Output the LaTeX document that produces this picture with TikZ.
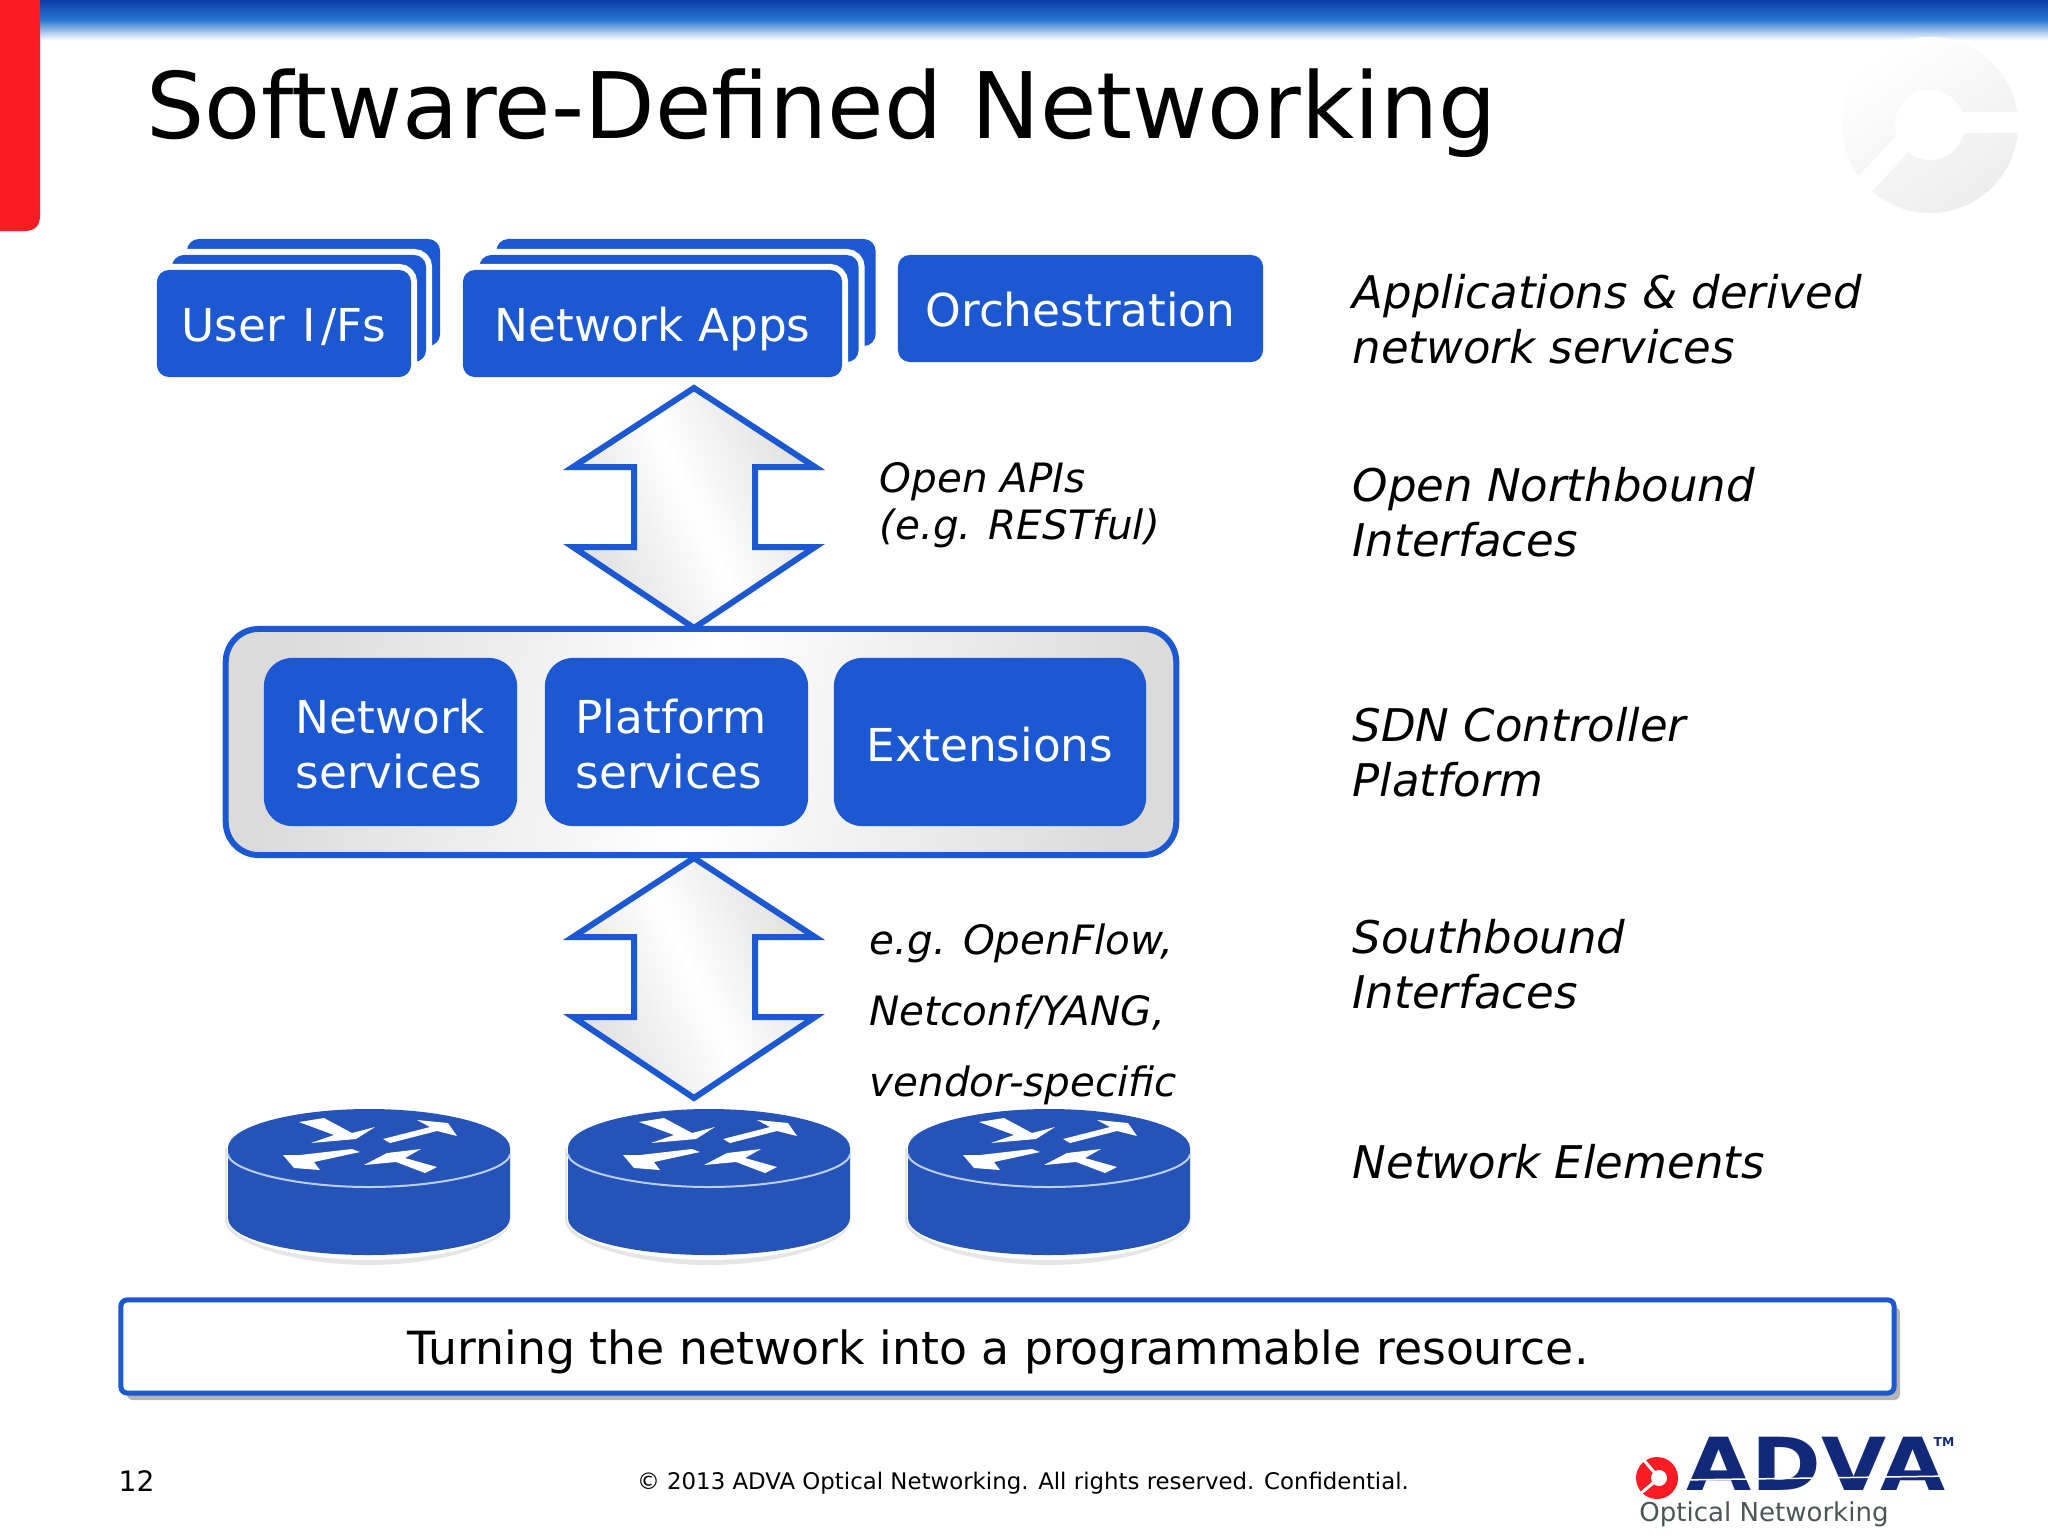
\documentclass[tikz,border=0pt]{standalone}
\usepackage{fontspec}
\setmainfont{DejaVu Sans}
\usetikzlibrary{%
  shadows,
  positioning
}
\definecolor{sdnblue}{HTML}{1B58D2}
\definecolor{routerblue}{HTML}{2653B8}
\definecolor{advanavy}{HTML}{12297A}
\definecolor{advared}{HTML}{FA1C24}
\definecolor{advagray}{HTML}{4A5555}
\definecolor{bartop}{HTML}{0A3CA8}
\definecolor{barmid}{HTML}{2A78D0}
\tikzset{
  bluebox/.style={fill=sdnblue, rounded corners=0.12cm, inner sep=0pt, text=white, align=left, font=\fontsize{12.9}{15.6}\selectfont},
  innerbox/.style={bluebox, rounded corners=0.28cm, minimum height=1.68cm},
  stackbox/.style={bluebox, minimum height=1.07cm, text height=10.4pt, text depth=0pt, preaction={draw=white, line width=0.12cm}},
  sidelabel/.style={anchor=west, align=left, inner sep=0pt, font=\fontsize{12.8}{15.6}\selectfont\itshape},
  midlabel/.style={anchor=west, align=left, inner sep=0pt, font=\fontsize{11.5}{13.4}\selectfont\itshape},
  updown/.style={draw=sdnblue, line width=0.06cm, miter limit=10, shading=axis, left color=gray!25, right color=gray!25, middle color=white, shading angle=115},
  router/.pic={
    \fill[gray!20] (-144,72) -- (-144,0) -- (142,0) -- (142,72) .. controls (142,96) and (70,117) .. (0,117) .. controls (-70,117) and (-144,96) .. (-144,72) -- cycle;
    \fill[white] (-142,70) -- (-142,0) -- (142,0) -- (142,70) .. controls (142,94) and (70,112) .. (0,112) .. controls (-70,112) and (-142,94) .. (-142,70) -- cycle;
    \fill[routerblue] (-141,0) .. controls (-141,-22) and (-75,-39) .. (0,-39) .. controls (75,-39) and (141,-22) .. (141,0) -- (141,70) .. controls (141,92) and (75,107) .. (0,107) .. controls (-75,107) and (-141,92) .. (-141,70) -- cycle;
    \draw[white!70!sdnblue, line width=0.02cm] (-141,6) .. controls (-141,22) and (-75,39) .. (0,39) .. controls (75,39) and (141,22) .. (141,6);
    \fill[white] (-70,-26) -- (-45,-30) -- (-17,-15) -- (6,-21) -- (-13,-9) -- (-58,-5) -- (-35,-13) -- cycle;
    \fill[white] (14,-9) -- (61,-21) -- (48,-28) -- (79,-25) -- (88,-12) -- (68,-17) -- (21,-5) -- cycle;
    \fill[white] (-86,7) -- (-69,7) -- (-17,1) -- (-9,4) -- (-55,14) -- (-49,22) -- (-75,20) -- cycle;
    \fill[white] (-5,17) -- (18,5) -- (52,1) -- (36,10) -- (68,19) -- (56,25) -- (27,14) -- cycle;
  }
}
\begin{document}
\begin{tikzpicture}[x=0.01cm, y=-0.01cm]
    \useasboundingbox (0,0) rectangle (2048,1536);

    \shade[top color=bartop, bottom color=white, middle color=barmid] (0,0) rectangle (2048,40);
    \fill[advared] (0,0) -- (40,0) -- (40,215) .. controls (40,226) and (35,231) .. (24,231) -- (0,231) -- cycle;

    \shade[even odd rule, top color=white, bottom color=gray!14, shading angle=35] (1930,125) circle[radius=88] (1930,125) circle[radius=35];
    \fill[white] (1930,112) rectangle (2030,133);
    \draw[white, line width=0.2cm] (1905,141) -- (1850,200);

    \node[anchor=west, inner sep=0pt, font=\fontsize{26.1}{30}\selectfont] (title) at (146,113) {Software-Defined Networking};

    \node[stackbox, minimum width=2.53cm] (userback) at (313.5,292.5) {};
    \node[stackbox, minimum width=2.54cm] (usermid) at (299,308.5) {};
    \node[stackbox, minimum width=2.54cm] (user) at (284,323.5) {User \kern1pt I\kern1.5pt/Fs};

    \node[stackbox, minimum width=3.79cm] (appsback) at (686,292.5) {};
    \node[stackbox, minimum width=3.79cm] (appsmid) at (669,308.5) {};
    \node[stackbox, minimum width=3.79cm] (apps) at (652.5,323.5) {Network Apps};

    \node[bluebox, minimum width=3.65cm, minimum height=1.07cm, text height=10.1pt, text depth=0pt] (orch) at (1080.5,308.5) {Orchestration};

    \draw[updown] (694,388) -- (815,467) -- (755,467) -- (755,547) -- (815,547) -- (694,628) -- (573,547) -- (634,547) -- (634,467) -- (573,467) -- cycle;

    \node[rounded corners=0.33cm, draw=sdnblue, line width=0.06cm, shading=axis, left color=gray!28, right color=gray!28, middle color=white, shading angle=80, minimum width=9.5cm, minimum height=2.26cm] (platform) at (701,742) {};
    \node[innerbox, minimum width=2.53cm] (netserv) at (390.5,742) {Network\rule{0pt}{10.9pt}\\services};
    \node[innerbox, minimum width=2.63cm] (platserv) at (676.5,742) {Platform\rule{0pt}{10.9pt}\hspace*{3pt}\\services};
    \node[innerbox, minimum width=3.12cm, text height=10.9pt, text depth=0pt] (ext) at (990,742) {Extensions};

    \draw[updown] (694,858) -- (815,937) -- (755,937) -- (755,1017) -- (815,1017) -- (694,1098) -- (573,1017) -- (634,1017) -- (634,937) -- (573,937) -- cycle;

    \pic at (369,1148) {router};
    \pic at (709,1148) {router};
    \pic at (1049,1148) {router};

    \node[midlabel] (apis) at (879,505) {Open APIs\\(e.g. RESTful)};
    \node[midlabel] (openflow) at (869,943) {e.g. OpenFlow,};
    \node[midlabel] (netconf) at (869,1012) {Netconf/YANG,};
    \node[midlabel] (vendor) at (869,1085) {vendor-specific};

    \node[sidelabel] (appslabel) at (1352,319) {Applications \& derived\\network services};
    \node[sidelabel] (northlabel) at (1352,512) {Open Northbound\\Interfaces};
    \node[sidelabel] (sdnlabel) at (1352,752) {SDN Controller\\Platform};
    \node[sidelabel] (southlabel) at (1352,964) {Southbound\\Interfaces};
    \node[sidelabel] (nelabel) at (1352,1162) {Network Elements};

    \node[draw=sdnblue, line width=0.05cm, fill=white, rounded corners=0.06cm, drop shadow={shadow xshift=0.06cm, shadow yshift=-0.07cm, fill=gray, opacity=.6}, minimum width=17.72cm, minimum height=0.93cm] (banner) at (1007.5,1346.5) {};
    \node[inner sep=0pt, font=\fontsize{13}{15.6}\selectfont] (bannertext) at (998,1352) {Turning the network into a programmable resource.};

    \node[anchor=west, inner sep=0pt, font=\fontsize{8}{10}\selectfont] (page) at (118,1481) {12};
    \node[inner sep=0pt, font=\fontsize{6.5}{9}\selectfont] (copy) at (1023,1483) {© 2013 ADVA Optical Networking. All rights reserved. Confidential.};

    \fill[advared] (1657,1478) circle[radius=21];
    \fill[white] (1659,1478) circle[radius=8];
    \draw[white, line width=0.03cm] (1659,1478) -- (1642,1458);
    \draw[white, line width=0.03cm] (1659,1478) -- (1640,1494);
    \node[inner sep=0pt, text=advanavy, font=\fontsize{20.8}{24}\selectfont\bfseries] (adva) at (1816,1464) {\scalebox{1.15}[1]{ADVA}};
    \draw[white, line width=0.015cm] (1680,1480) -- (1950,1476);
    \node[inner sep=0pt, text=advanavy, font=\fontsize{3.5}{4}\selectfont\bfseries] (tm) at (1944,1442) {TM};
    \node[inner sep=0pt, text=advagray, font=\fontsize{7.4}{9}\selectfont] (optical) at (1764,1514) {Optical Networking};
\end{tikzpicture}
\end{document}
